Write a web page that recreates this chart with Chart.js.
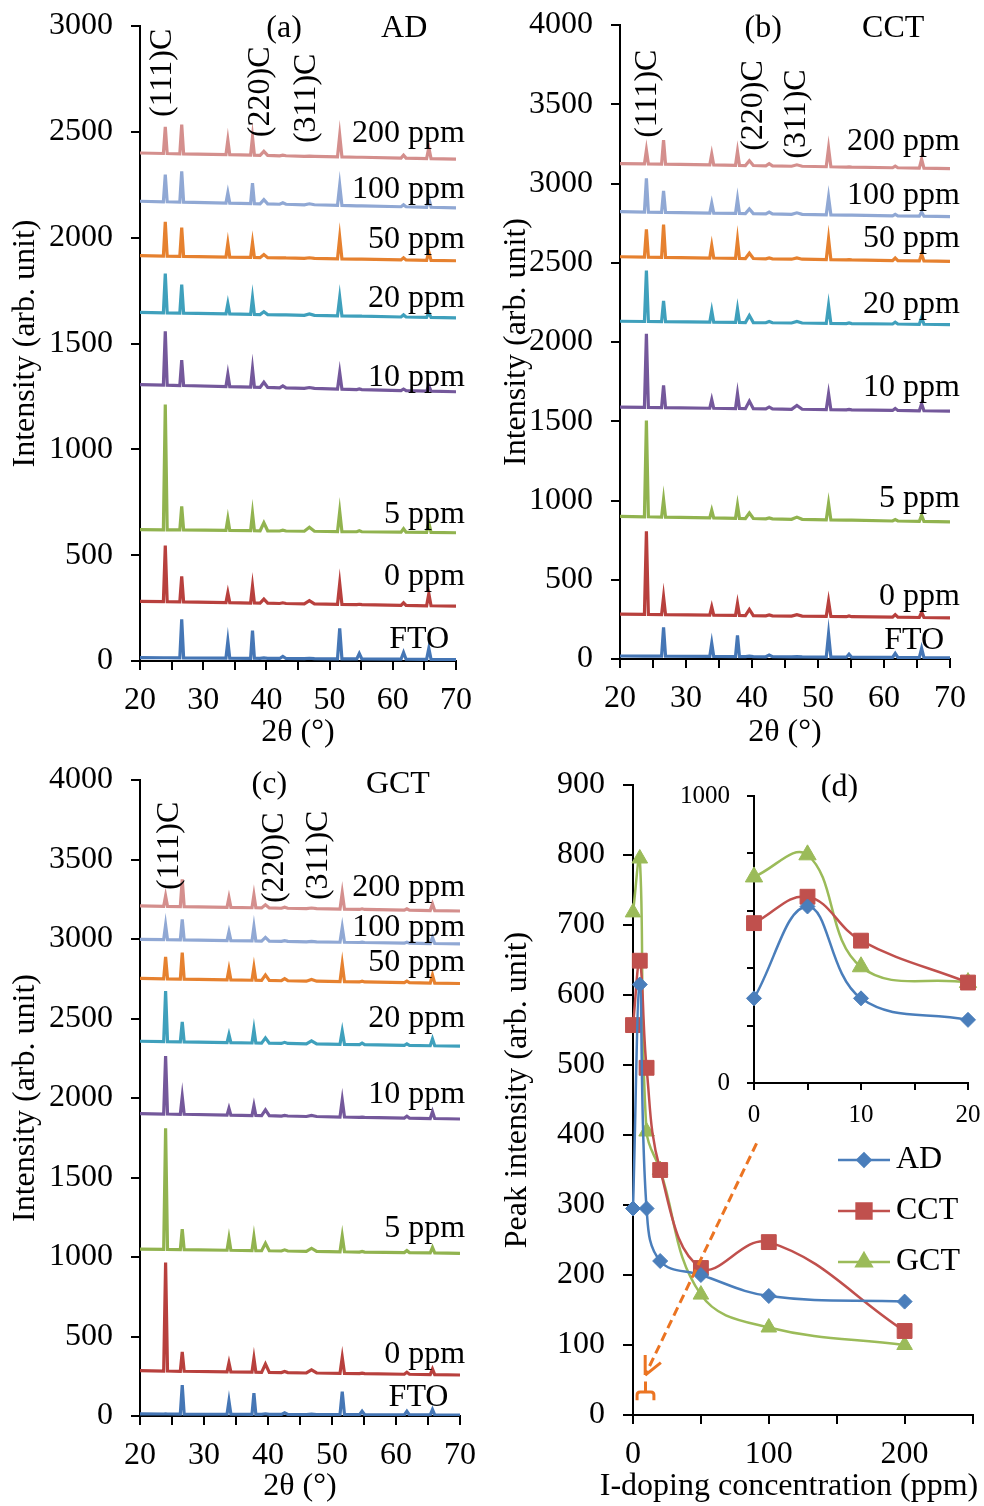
<!DOCTYPE html>
<html>
<head>
<meta charset="utf-8">
<script src="https://cdn.jsdelivr.net/npm/chart.js@4.4.1/dist/chart.umd.min.js"></script>
<style>
  body { margin: 0; background: #fff; }
  #wrap { position: relative; width: 984px; height: 1506px; }
  canvas { position: absolute; }
</style>
</head>
<body>
<div id="wrap">
  <canvas id="chartA" width="492" height="755" style="left:0;top:0"></canvas>
  <canvas id="chartB" width="492" height="755" style="left:492px;top:0"></canvas>
  <canvas id="chartC" width="492" height="751" style="left:0;top:755px"></canvas>
  <canvas id="chartD" width="492" height="751" style="left:492px;top:755px"></canvas>
  <canvas id="chartInset" width="324" height="360" style="left:660px;top:775px"></canvas>
</div>
<script>
const FONT = "'Liberation Serif', 'Times New Roman', serif";
Chart.defaults.font.family = FONT;
Chart.defaults.font.size = 32;
Chart.defaults.color = "#000";
Chart.defaults.animation = false;

// ---- XRD data (2θ peak positions, intensities) ----
const sampleNames = ["FTO", "0 ppm", "5 ppm", "10 ppm", "20 ppm", "50 ppm", "100 ppm", "200 ppm"];
const sampleColors = ["#4576B5", "#B8403D", "#91B34F", "#74589B", "#3FA0BC", "#E6812F", "#90A8D4", "#D48F8D"];
const peakPos = [24.0, 26.6, 33.9, 37.8, 39.6, 42.6, 46.8, 51.6, 54.7, 61.7, 65.7];
const peakLabels = ["(111)C", "(220)C", "(311)C"];

// baseline [start at 20°, end at 70°] for each sample
const adBase = [[16, 7], [282, 259], [621, 606], [1306, 1272], [1647, 1621], [1915, 1891], [2172, 2141], [2400, 2371]];
const adPeaks = [
  [15, 197, 94, 143, 15, 22, 13, 154, 35, 40, 60],
  [545, 400, 322, 353, 292, 275, 285, 366, 268, 275, 318],
  [1212, 731, 672, 697, 653, 618, 632, 706, 615, 625, 653],
  [1558, 1421, 1354, 1380, 1317, 1300, 1292, 1362, 1285, 1285, 1300],
  [1830, 1778, 1688, 1715, 1650, 1635, 1640, 1718, 1630, 1635, 1645],
  [2075, 2047, 1973, 1976, 1920, 1905, 1905, 2001, 1898, 1905, 1933],
  [2298, 2313, 2211, 2258, 2180, 2165, 2160, 2247, 2150, 2155, 2185],
  [2523, 2534, 2461, 2476, 2408, 2390, 2385, 2483, 2380, 2390, 2425]
];
const cctBase = [[19, 8], [283, 260], [900, 865], [1589, 1564], [2131, 2110], [2538, 2509], [2822, 2791], [3126, 3094]];
const cctPeaks = [
  [18, 200, 99, 149, 18, 25, 15, 157, 30, 35, 67],
  [806, 392, 329, 350, 313, 278, 280, 365, 272, 280, 295],
  [1505, 1006, 938, 970, 921, 890, 895, 981, 875, 880, 907],
  [2052, 1726, 1636, 1673, 1627, 1590, 1600, 1673, 1575, 1580, 1610],
  [2450, 2260, 2197, 2208, 2167, 2130, 2130, 2230, 2120, 2125, 2156],
  [2710, 2740, 2608, 2644, 2560, 2530, 2530, 2650, 2520, 2530, 2555],
  [3032, 2953, 2875, 2902, 2839, 2820, 2815, 2913, 2800, 2805, 2820],
  [3210, 3273, 3185, 3202, 3143, 3125, 3118, 3223, 3105, 3110, 3153]
];
const gctBase = [[13, 6], [285, 258], [1050, 1023], [1902, 1868], [2357, 2326], [2752, 2720], [2998, 2969], [3208, 3176]];
const gctPeaks = [
  [13, 195, 94, 143, 14, 20, 12, 153, 30, 30, 40],
  [965, 403, 334, 362, 327, 280, 290, 369, 270, 275, 295],
  [1810, 1175, 1118, 1128, 1086, 1045, 1055, 1132, 1035, 1040, 1060],
  [2264, 2008, 1935, 1952, 1925, 1890, 1890, 1987, 1880, 1885, 1914],
  [2672, 2479, 2399, 2431, 2378, 2350, 2360, 2420, 2345, 2340, 2372],
  [2888, 2914, 2809, 2822, 2774, 2750, 2745, 2843, 2735, 2735, 2774],
  [3088, 3123, 3045, 3077, 3010, 2990, 2985, 3073, 2980, 2980, 3010],
  [3270, 3375, 3260, 3277, 3215, 3200, 3195, 3291, 3190, 3190, 3220]
];

// ---- peak intensity vs doping (panel d) ----
const conc = [0, 5, 10, 20, 50, 100, 200];
const adPeak = [295, 615, 295, 220, 200, 170, 162];
const cctPeak = [557, 649, 496, 350, 210, 247, 120];
const gctPeak = [718, 795, 405, 350, 172, 125, 100];
const seriesNames = ["AD", "CCT", "GCT"];

// half width of each peak at its foot (shape only)
const peakWidth = [0.3, 0.3, 0.3, 0.3, 0.6, 0.5, 0.8, 0.35, 0.4, 0.4, 0.35];

function buildPattern(base, heights) {
  const pts = [{ x: 20, y: base[0] }];
  const slope = (base[1] - base[0]) / 50;
  peakPos.forEach((p, i) => {
    const w = peakWidth[i];
    const b = base[0] + slope * (p - 20);
    pts.push({ x: p - w, y: b }, { x: p, y: Math.max(heights[i], b) }, { x: p + w, y: b });
  });
  pts.push({ x: 70, y: base[1] });
  return pts;
}

function axisLook(tickLen) {
  return {
    grid: { display: true, drawOnChartArea: false, drawTicks: true, tickLength: tickLen, color: "#000", lineWidth: 2 },
    border: { display: true, color: "#000", width: 2 }
  };
}

// fix the axis boxes so the plot area lands where the original has it
function fixY(width) {
  return (s) => { s.width = width; s.paddingTop = 0; s.paddingBottom = 0; };
}
function fixX(height) {
  return (s) => { s.height = height; s.paddingLeft = 0; s.paddingRight = 0; };
}

// text labels drawn on the XRD panels
function xrdTextPlugin(cfg) {
  return {
    id: "xrdText",
    afterDraw(chart) {
      const { ctx } = chart;
      const x = chart.scales.x, y = chart.scales.y;
      ctx.save();
      ctx.fillStyle = "#000";
      ctx.font = "32px " + FONT;
      ctx.textBaseline = "middle";
      ctx.textAlign = "center";
      ctx.fillText(cfg.letter, x.getPixelForValue(cfg.letterPos[0]), y.getPixelForValue(cfg.letterPos[1]));
      ctx.fillText(cfg.name, x.getPixelForValue(cfg.namePos[0]), y.getPixelForValue(cfg.namePos[1]));
      ctx.textAlign = "right";
      sampleNames.forEach((n, i) => {
        const lx = i === 0 ? cfg.ftoLabelX : cfg.sampleLabelX;
        ctx.fillText(n, x.getPixelForValue(lx), y.getPixelForValue(cfg.sampleLabelY[i]));
      });
      peakLabels.forEach((t, i) => {
        const p = cfg.peakLabelPos[i];
        ctx.save();
        ctx.translate(x.getPixelForValue(p[0]), y.getPixelForValue(p[1]));
        ctx.rotate(-Math.PI / 2);
        ctx.textAlign = "left";
        ctx.fillText(t, 0, 0);
        ctx.restore();
      });
      ctx.restore();
    }
  };
}

function makeXrdChart(cfg, bases, peaks) {
  const datasets = sampleNames.map((n, i) => ({
    label: n,
    data: buildPattern(bases[i], peaks[i]),
    borderColor: sampleColors[i],
    borderWidth: 3.2,
    pointRadius: 0,
    tension: 0
  }));
  return new Chart(document.getElementById(cfg.canvas), {
    type: "line",
    data: { datasets },
    options: {
      responsive: false,
      layout: { padding: { top: cfg.padTop, right: cfg.padRight, left: 0, bottom: 0 } },
      plugins: { legend: { display: false }, tooltip: { enabled: false } },
      scales: {
        x: {
          type: "linear", min: 20, max: 70,
          ticks: { stepSize: 5, autoSkip: false, maxRotation: 0, padding: 11,
            callback: (v) => (v % 10 === 0 ? String(v) : "") },
          title: { display: true, text: "2θ (°)", padding: { top: 0, bottom: cfg.xTitlePad } },
          afterFit: fixX(cfg.xHeight),
          ...axisLook(9)
        },
        y: {
          min: 0, max: cfg.yMax,
          ticks: { stepSize: 500, padding: 18, callback: (v) => String(v) },
          title: { display: true, text: "Intensity (arb. unit)", padding: { top: cfg.yTitlePad, bottom: 0 } },
          afterFit: fixY(cfg.yWidth),
          ...axisLook(9)
        }
      }
    },
    plugins: [xrdTextPlugin(cfg)]
  });
}

makeXrdChart({
  canvas: "chartA", yMax: 3000, yWidth: 140, padTop: 26, padRight: 36, xHeight: 94, xTitlePad: 3, yTitlePad: 6,
  letter: "(a)", name: "AD", letterPos: [42.8, 2990], namePos: [61.8, 2990],
  peakLabelPos: [[23.6, 2570], [39.1, 2475], [46.4, 2447]],
  sampleLabelX: 71.4, ftoLabelX: 68.9, sampleLabelY: [99, 397, 690, 1341, 1710, 1993, 2225, 2494]
}, adBase, adPeaks);

makeXrdChart({
  canvas: "chartB", yMax: 4000, yWidth: 128, padTop: 25, padRight: 34, xHeight: 96, xTitlePad: 3, yTitlePad: 5,
  letter: "(b)", name: "CCT", letterPos: [41.7, 3975], namePos: [61.4, 3975],
  peakLabelPos: [[24.2, 3288], [40.3, 3206], [46.8, 3156]],
  sampleLabelX: 71.5, ftoLabelX: 69.1, sampleLabelY: [113, 391, 1014, 1713, 2236, 2652, 2923, 3263]
}, cctBase, cctPeaks);

makeXrdChart({
  canvas: "chartC", yMax: 4000, yWidth: 140, padTop: 25, padRight: 32, xHeight: 90, xTitlePad: 0, yTitlePad: 6,
  letter: "(c)", name: "GCT", letterPos: [40.2, 3969], namePos: [60.3, 3969],
  peakLabelPos: [[24.7, 3308], [41.1, 3226], [47.9, 3245]],
  sampleLabelX: 70.8, ftoLabelX: 68.2, sampleLabelY: [113, 384, 1176, 2019, 2497, 2849, 3069, 3321]
}, gctBase, gctPeaks);

// ---- panel (d) ----
const seriesColors = ["#4A7EBB", "#C0504D", "#9BBB59"];
const seriesMarkers = ["rectRot", "rect", "triangle"];
const markerRadius = [7.5, 10.5, 9];
const peakSeries = [adPeak, cctPeak, gctPeak];

function peakDatasets(count, radii) {
  return seriesNames.map((n, k) => ({
    label: n,
    data: conc.slice(0, count).map((c, i) => ({ x: c, y: peakSeries[k][i] })),
    borderColor: seriesColors[k],
    backgroundColor: seriesColors[k],
    pointStyle: seriesMarkers[k],
    pointRadius: radii[k],
    pointBorderWidth: 1,
    borderWidth: 2.5,
    tension: 0.4,
    clip: false
  }));
}

function drawMarker(ctx, style, r, x, y, color) {
  ctx.fillStyle = color;
  ctx.strokeStyle = color;
  if (Chart.helpers && Chart.helpers.drawPoint) {
    Chart.helpers.drawPoint(ctx, { pointStyle: style, radius: r, rotation: 0, borderWidth: 1 }, x, y);
  }
}

const panelDPlugin = {
  id: "panelD",
  afterDraw(chart) {
    const { ctx } = chart;
    const x = chart.scales.x, y = chart.scales.y;
    ctx.save();
    // panel letter
    ctx.fillStyle = "#000";
    ctx.font = "32px " + FONT;
    ctx.textAlign = "center";
    ctx.textBaseline = "middle";
    ctx.fillText("(d)", x.getPixelForValue(152), y.getPixelForValue(897));

    // axis titles, placed as in the original (the x one runs past the plot edges)
    ctx.fillText("I-doping concentration (ppm)", 297, 732);
    ctx.save();
    ctx.translate(26, 335);
    ctx.rotate(-Math.PI / 2);
    ctx.fillText("Peak intensity (arb. unit)", 0, 0);
    ctx.restore();

    // legend
    const legendY = [405, 456, 507];
    seriesNames.forEach((n, k) => {
      ctx.strokeStyle = seriesColors[k];
      ctx.lineWidth = 2.5;
      ctx.beginPath();
      ctx.moveTo(346, legendY[k]);
      ctx.lineTo(398, legendY[k]);
      ctx.stroke();
      drawMarker(ctx, seriesMarkers[k], [6.5, 10.5, 8.7][k], 372, legendY[k], seriesColors[k]);
      ctx.fillStyle = "#000";
      ctx.textAlign = "left";
      ctx.fillText(n, 404, legendY[k]);
    });

    // dashed arrow pointing at the 0-20 ppm range
    const orange = "#EB7422";
    const x0 = x.getPixelForValue(91), y0 = y.getPixelForValue(388);
    const x1 = x.getPixelForValue(9), y1 = y.getPixelForValue(57);
    ctx.strokeStyle = orange;
    ctx.lineWidth = 3;
    ctx.setLineDash([9, 5]);
    ctx.beginPath();
    ctx.moveTo(x0, y0);
    ctx.lineTo(x1, y1);
    ctx.stroke();
    ctx.setLineDash([]);
    const ang = Math.atan2(y0 - y1, x0 - x1);
    [0.45, -0.45].forEach((d) => {
      ctx.beginPath();
      ctx.moveTo(x1, y1);
      ctx.lineTo(x1 + 20 * Math.cos(ang + d), y1 + 20 * Math.sin(ang + d));
      ctx.stroke();
    });
    // bracket
    const bl = x.getPixelForValue(3), br = x.getPixelForValue(15.4), bc = (bl + br) / 2;
    const bBot = y.getPixelForValue(21), bTop = y.getPixelForValue(33), bNub = y.getPixelForValue(48);
    ctx.beginPath();
    ctx.moveTo(bl, bBot);
    ctx.lineTo(bl, bTop + 3);
    ctx.quadraticCurveTo(bl, bTop, bl + 3, bTop);
    ctx.lineTo(br - 3, bTop);
    ctx.quadraticCurveTo(br, bTop, br, bTop + 3);
    ctx.lineTo(br, bBot);
    ctx.moveTo(bc, bTop);
    ctx.lineTo(bc, bNub);
    ctx.stroke();
    ctx.restore();
  }
};

new Chart(document.getElementById("chartD"), {
  type: "line",
  data: { datasets: peakDatasets(conc.length, markerRadius) },
  options: {
    responsive: false,
    layout: { padding: { top: 30, right: 11, left: 0, bottom: 0 } },
    plugins: { legend: { display: false }, tooltip: { enabled: false } },
    scales: {
      x: {
        type: "linear", min: 0, max: 250,
        ticks: { stepSize: 50, autoSkip: false, maxRotation: 0, padding: 11,
          callback: (v) => (v % 100 === 0 ? String(v) : "") },
        title: { display: false },
        afterFit: fixX(91),
        ...axisLook(9)
      },
      y: {
        min: 0, max: 900,
        ticks: { stepSize: 100, padding: 18, callback: (v) => String(v) },
        title: { display: false },
        afterFit: fixY(141),
        ...axisLook(10)
      }
    }
  },
  plugins: [panelDPlugin]
});

// ---- inset of panel (d): 0-20 ppm ----
new Chart(document.getElementById("chartInset"), {
  type: "line",
  data: { datasets: peakDatasets(4, [7.5, 10.5, 10]) },
  options: {
    responsive: false,
    layout: { padding: { top: 21, right: 16, left: 0, bottom: 0 } },
    plugins: { legend: { display: false }, tooltip: { enabled: false } },
    scales: {
      x: {
        type: "linear", min: 0, max: 20,
        ticks: { stepSize: 5, autoSkip: false, maxRotation: 0, padding: 10, font: { size: 25 },
          callback: (v) => (v % 10 === 0 ? String(v) : "") },
        afterFit: fixX(52),
        ...axisLook(7)
      },
      y: {
        min: 0, max: 1000,
        ticks: { stepSize: 100, padding: 17, font: { size: 25 },
          callback: (v) => (v % 500 === 0 ? String(v) : "") },
        afterFit: fixY(94),
        ...axisLook(7)
      }
    }
  }
});
</script>
</body>
</html>
